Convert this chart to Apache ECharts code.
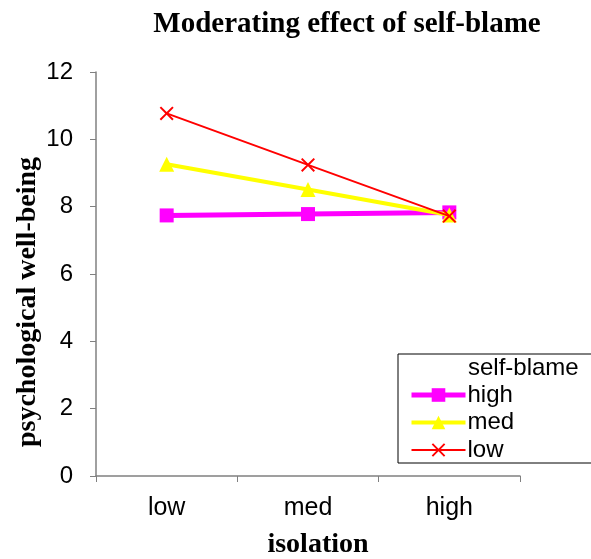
<!DOCTYPE html>
<html>
<head>
<meta charset="utf-8">
<script src="https://cdn.jsdelivr.net/npm/echarts@6/dist/echarts.min.js"></script>
<style>html,body{margin:0;padding:0;background:#fff}#c{width:591px;height:559px}</style>
</head>
<body>
<div id="c"></div>
<script>
const categories = ['low', 'med', 'high'];
const seriesNames = ['high', 'med', 'low'];
const highValues = [7.74, 7.78, 7.83];
const medValues = [9.26, 8.51, 7.75];
const lowValues = [10.77, 9.24, 7.72];
const yTicks = [0, 2, 4, 6, 8, 10, 12];
const titleText = 'Moderating effect of self-blame';
const xName = 'isolation';
const yName = 'psychological well-being';
const legendTitle = 'self-blame';

const chart = echarts.init(document.getElementById('c'), null, {renderer: 'canvas'});
const serif = '"Liberation Serif", "Times New Roman", serif';
const sans = '"Liberation Sans", Arial, sans-serif';
const crossPath = 'path://M0,1 L1,0 L5,4 L9,0 L10,1 L6,5 L10,9 L9,10 L5,6 L1,10 L0,9 L4,5 Z';
const colors = ['#FF00FF', '#FFFF00', '#FF0000'];
const widths = [5, 4, 2];

chart.setOption({
  animation: false,
  backgroundColor: '#fff',
  grid: {left: 96, right: 71, top: 72, bottom: 83, containLabel: false},
  xAxis: {
    type: 'category', data: categories, boundaryGap: true,
    axisLine: {lineStyle: {color: '#808080', width: 1.5}},
    axisTick: {show: true, inside: false, length: 6, lineStyle: {color: '#808080'}},
    axisLabel: {fontFamily: sans, fontSize: 25, color: '#000', margin: 20},
    splitLine: {show: false}
  },
  yAxis: {
    type: 'value', min: yTicks[0], max: yTicks[yTicks.length - 1], interval: 2,
    axisLine: {show: true, lineStyle: {color: '#808080', width: 1.5}},
    axisTick: {show: true, inside: false, length: 6, lineStyle: {color: '#808080'}},
    axisLabel: {fontFamily: sans, fontSize: 24, color: '#000', margin: 23},
    splitLine: {show: false}
  },
  legend: {
    data: seriesNames.map((n, i) => ({name: n, lineStyle: {width: widths[i], color: colors[i]}})),
    orient: 'vertical', left: 409, top: 383,
    itemWidth: 54, itemHeight: 17, itemGap: 3.5,
    textStyle: {fontFamily: sans, fontSize: 24, color: '#000', padding: [0, 0, 0, -3]},
    padding: 0
  },
  graphic: [
    {type: 'rect', shape: {x: 398, y: 354, width: 200, height: 109}, style: {fill: 'none', stroke: '#000', lineWidth: 1}, z: 10},
    {type: 'text', x: 468, y: 368, style: {text: legendTitle, font: '24px ' + sans, fill: '#000', textVerticalAlign: 'middle'}, z: 11},
    {type: 'text', x: 347, y: 25, style: {text: titleText, font: 'bold 29px ' + serif, fill: '#000', textAlign: 'center', textVerticalAlign: 'middle'}},
    {type: 'text', x: 318, y: 545, style: {text: xName, font: 'bold 28px ' + serif, fill: '#000', textAlign: 'center', textVerticalAlign: 'middle'}},
    {type: 'text', x: 28, y: 302, rotation: Math.PI / 2, style: {text: yName, font: 'bold 28px ' + serif, fill: '#000', textAlign: 'center', textVerticalAlign: 'middle'}}
  ],
  series: [
    {name: seriesNames[0], type: 'line', data: highValues, z: 2,
     symbol: 'rect', symbolSize: 14, itemStyle: {color: colors[0]}, lineStyle: {color: colors[0], width: widths[0]}},
    {name: seriesNames[1], type: 'line', data: medValues, z: 3,
     symbol: 'triangle', symbolSize: 15, itemStyle: {color: colors[1]}, lineStyle: {color: colors[1], width: widths[1]}},
    {name: seriesNames[2], type: 'line', data: lowValues, z: 4,
     symbol: crossPath, symbolSize: 14, itemStyle: {color: colors[2]}, lineStyle: {color: colors[2], width: widths[2]}}
  ]
});
</script>
</body>
</html>
